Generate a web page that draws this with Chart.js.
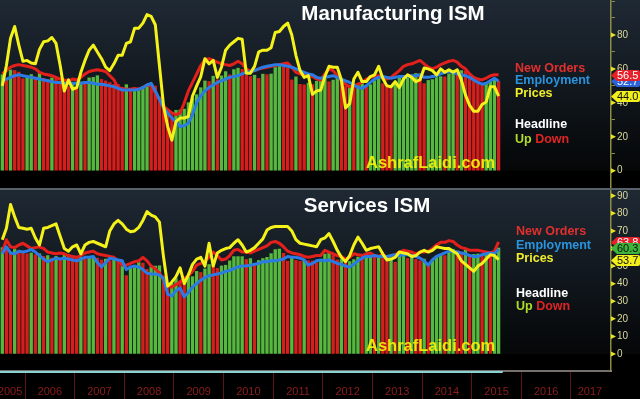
<!DOCTYPE html>
<html>
<head>
<meta charset="utf-8">
<script src="https://cdn.jsdelivr.net/npm/chart.js@4.4.1/dist/chart.umd.min.js"></script>
<style>
  html, body { margin: 0; padding: 0; background: #000; }
  #wrap { position: relative; width: 640px; height: 399px; overflow: hidden; background: #000;
          font-family: 'Liberation Sans', Arial, sans-serif; }
  #topBox { position: absolute; left: 0; top: 0; width: 640px; height: 188px; }
  #sep { position: absolute; left: 0; top: 188px; width: 640px; height: 2px; background: #59626b; }
  #botBox { position: absolute; left: 0; top: 190px; width: 640px; height: 209px; }
  .t { position: absolute; font-weight: bold; white-space: nowrap; line-height: 1; z-index: 5; }
  .title { font-size: 20.5px; color: #fff; width: 240px; text-align: center; }
  .leg { font-size: 12.5px; }
  .mark { font-size: 16.5px; color: rgba(246, 242, 10, 0.92); }
</style>
</head>
<body>
<div id="wrap">
  <div id="topBox"><canvas id="mfgChart" width="640" height="188"></canvas></div>
  <div id="sep"></div>
  <div id="botBox"><canvas id="svcChart" width="640" height="209"></canvas></div>

  <div class="t title" style="left:273px; top:3.3px;">Manufacturing ISM</div>
  <div class="t leg" style="left:515px; top:61.7px; color:#e0302e;">New Orders</div>
  <div class="t leg" style="left:515px; top:74.4px; color:#2a93dd;">Employment</div>
  <div class="t leg" style="left:515px; top:87.1px; color:#f0ee2a;">Prices</div>
  <div class="t leg" style="left:515px; top:117.7px; color:#fff;">Headline</div>
  <div class="t leg" style="left:515px; top:132.7px;"><span style="color:#b2dc2a;">Up</span> <span style="color:#dd2424;">Down</span></div>
  <div class="t mark" style="left:366px; top:154.3px;">AshrafLaidi.com</div>

  <div class="t title" style="left:247px; top:195.3px;">Services ISM</div>
  <div class="t leg" style="left:516px; top:225.1px; color:#e0302e;">New Orders</div>
  <div class="t leg" style="left:516px; top:238.7px; color:#2a93dd;">Employment</div>
  <div class="t leg" style="left:516px; top:252.1px; color:#f0ee2a;">Prices</div>
  <div class="t leg" style="left:516px; top:286.7px; color:#fff;">Headline</div>
  <div class="t leg" style="left:516px; top:300.1px;"><span style="color:#b2dc2a;">Up</span> <span style="color:#dd2424;">Down</span></div>
  <div class="t mark" style="left:366px; top:337px;">AshrafLaidi.com</div>
</div>

<script>
// Monthly readings, July 2005 .. July 2015 (one value per month)
const START_MONTH = 6; // months after Jan 2005

// ---- Manufacturing ISM ----
const mfgHeadline = [
  56.6, 53.6, 59.4, 59.1, 58.1, 54.2,
  54.8, 56.7, 55.2, 57.3, 54.4, 53.8, 54.7, 54.5, 52.9, 51.2, 49.5, 51.4,
  49.3, 52.3, 50.9, 54.7, 55.0, 56.0, 53.8, 52.9, 52.0, 50.9, 50.8, 48.4,
  50.7, 48.3, 48.6, 48.6, 49.6, 50.2, 50.0, 49.9, 43.5, 38.9, 36.2, 32.4,
  35.6, 35.8, 36.3, 40.1, 42.8, 44.8, 48.9, 52.9, 52.6, 55.7, 53.6, 55.9,
  58.4, 56.5, 59.6, 60.4, 59.7, 56.2, 55.5, 56.3, 54.4, 56.9, 56.6, 57.0,
  60.8, 61.4, 61.2, 60.4, 53.5, 55.3, 50.9, 50.6, 51.6, 50.8, 52.7, 53.9,
  54.1, 52.4, 53.4, 54.8, 53.5, 49.7, 49.8, 49.6, 51.5, 51.7, 49.5, 50.7,
  53.1, 54.2, 51.3, 50.7, 49.0, 50.9, 55.4, 55.7, 56.2, 56.4, 57.3, 57.0,
  51.3, 53.2, 53.7, 54.9, 55.4, 55.3, 57.1, 59.0, 56.6, 59.0, 58.7, 55.5,
  53.5, 52.9, 51.5, 51.5, 52.8, 53.5, 52.7
];
const mfgNewOrders = [
  57, 59, 61, 62, 62.5, 62,
  61.5, 61, 60, 58, 57, 56.5, 56, 55, 54, 53.5, 53, 54,
  53.5, 55, 57, 58.5, 59, 59.5, 59, 58.5, 56, 53.5, 49, 48.5,
  48, 48, 48.5, 48, 49, 50.5, 50, 46, 42, 38, 36, 34,
  33, 34, 40, 47, 52, 57, 62, 65.5, 66, 65, 64, 63,
  62.5, 62, 63, 64.5, 63, 60, 58.5, 59, 60, 60.5, 61, 61.5,
  62, 62.5, 63, 63.5, 61, 58, 57, 56.5, 56, 55.5, 54, 53.5,
  57, 60, 59, 56, 53, 51, 49.5, 50, 51, 52, 54, 55,
  55.5, 56, 55, 54, 55, 57, 59, 61.5, 62.5, 63, 64, 65,
  63, 61, 60, 61, 62.5, 63.5, 64.5, 65, 64, 61.5, 60, 57,
  55, 54, 53.5, 54.5, 56, 56.5, 56.5
];
const mfgEmployment = [
  53, 54, 55, 56, 56.5, 56,
  55.5, 55, 54.5, 54, 53.5, 53, 52.5, 52, 52, 51.5, 51.5, 51.5,
  51.5, 51.5, 52, 52, 51.5, 51, 51, 50.5, 50, 49.5, 48.5, 47.5,
  47.5, 47.5, 47.5, 48, 49, 50.5, 51.5, 47, 42, 37, 34, 31,
  29, 26, 26.5, 28, 33, 40, 44, 47, 49, 50.5, 52, 53,
  54, 55, 55.5, 56, 57, 58, 58.5, 59, 60, 61, 61.5, 62,
  62.5, 62.5, 62, 61.5, 61, 60, 59, 58, 57, 56.5, 55, 54.5,
  55, 55.5, 56, 55, 54, 53, 52, 50.5, 49, 48.5, 50, 52,
  54, 55, 55.5, 55, 54.5, 55, 55.5, 55.5, 55.5, 56, 56, 56.5,
  55, 55, 55.5, 56, 57, 58, 58.5, 58, 57, 56.5, 56, 55,
  53.5, 52, 51, 51.5, 53, 54.5, 52.7
];
const mfgPrices = [
  50, 62, 78, 85, 74, 64.5,
  65, 63.5, 63, 71.5, 76, 76.5, 78.5, 75, 62, 47, 53.5, 48,
  49, 58, 65, 71, 74, 70, 66, 61, 59, 63, 68, 68,
  75, 76, 84, 84, 87, 92, 91, 86, 62, 38, 26, 18,
  29, 31, 31, 32, 44, 50, 55.5, 66, 63, 65, 55, 61,
  71, 74, 76, 78, 77.5, 57.5, 57.5, 61.5, 70, 71, 71, 72.5,
  81.5, 82, 85, 87, 80, 68, 59, 55, 56, 45, 47, 47.5,
  55.5, 61.5, 61, 61, 53.5, 37, 39.5, 54, 58, 52.5, 52.5, 55.5,
  56.5, 61.5, 54.5, 50, 49.5, 52.5, 49, 54, 56.5, 55, 52.5, 53.5,
  60.5, 60, 59, 56.5, 60, 58, 59.5, 58, 59.5, 53.5, 44.5, 38.5,
  35, 35, 39, 40.5, 49.5, 49.5, 44.0
];

// ---- Services ISM ----
const svcHeadline = [
  60.5, 60.0, 57.5, 59.5, 58.5, 58.0,
  57.0, 57.5, 56.5, 57.0, 55.5, 56.0, 54.5, 55.5, 54.5, 56.5, 56.0, 55.0,
  54.5, 55.0, 54.0, 54.5, 55.0, 54.5, 53.5, 54.0, 53.0, 54.0, 52.5, 53.0,
  44.6, 49.3, 49.6, 52.0, 51.7, 48.2, 49.5, 50.0, 50.2, 44.4, 37.3, 40.1,
  42.9, 41.6, 40.8, 43.7, 44.0, 47.0, 46.4, 48.4, 50.9, 50.6, 48.7, 50.1,
  50.5, 53.0, 55.4, 55.4, 55.4, 53.8, 54.3, 51.5, 53.2, 54.3, 55.0, 57.1,
  59.4, 59.7, 57.3, 52.8, 54.6, 53.3, 52.7, 53.3, 53.0, 52.9, 52.0, 52.6,
  56.8, 57.3, 56.0, 53.5, 53.7, 52.1, 52.6, 53.7, 55.1, 54.2, 54.7, 56.1,
  55.2, 56.0, 54.4, 53.1, 53.7, 52.2, 56.0, 58.6, 54.4, 55.4, 53.9, 53.0,
  54.0, 51.6, 53.1, 55.2, 56.3, 56.0, 58.7, 59.6, 58.6, 57.1, 59.3, 56.2,
  56.7, 56.9, 56.5, 57.8, 55.7, 56.0, 60.3
];
const svcNewOrders = [
  58, 65, 61, 60.5, 62, 63,
  61.5, 60, 60.5, 61, 60, 58, 57.5, 57, 57.5, 57, 56, 55.5,
  55, 56, 57.5, 58, 58.5, 57, 56.5, 56, 55.5, 55, 53, 50.5,
  50.5, 51.5, 52.5, 53, 55, 53, 50, 48.5, 46, 42, 39, 38,
  39.5, 41, 43, 44.5, 47, 50.5, 51.5, 53, 55, 58, 56, 53.5,
  54, 56, 59, 59.5, 58, 58, 57.5, 58.5, 59.5, 60.5, 61.5, 63.5,
  64, 63, 61, 58.5, 57.5, 57, 56.5, 55.5, 55, 55.5, 56, 56,
  59, 58, 57, 56, 55.5, 54, 55, 57, 56.5, 56, 57, 57.5,
  56, 55.5, 56.5, 55, 56, 56.5, 58, 59, 58.5, 58, 57, 58,
  58, 58.5, 60, 62, 63.5, 63.5, 64.5, 64, 62, 60.5, 60, 59,
  59, 59, 58.5, 58, 57.5, 58.5, 63.8
];
const svcEmployment = [
  57, 61, 57.5, 57, 58.5, 58,
  58.5, 59.5, 58, 56, 54, 52.5, 53.5, 54.5, 54, 54.5, 54, 53.5,
  53, 54, 55, 55, 55.5, 52, 49.5, 52, 54.5, 54, 53.5, 53,
  48, 49.5, 50, 49.5, 48, 46, 45.5, 45.5, 45, 43, 34, 33,
  36, 37.5, 32.5, 35, 38, 40, 42, 43.5, 44.5, 45, 45.5, 46,
  47, 47.5, 48.5, 49.5, 50, 50, 50.5, 51, 51.5, 52.5, 52.5, 53,
  53, 53.5, 54, 55.5, 55, 55, 54.5, 53.5, 50.5, 51.5, 53, 53.5,
  53, 53.5, 52.5, 51.5, 51, 50, 49.5, 51, 53, 54.5, 55.5, 55.5,
  56, 55.5, 55.5, 55.5, 56, 56.5, 56, 56.5, 56.5, 56, 55.5, 54.5,
  53, 50.5, 53.5, 55.5, 56.5, 57.5, 58.5, 58.5, 58, 57.5, 57, 56,
  55.5, 55.5, 56.5, 57, 57.5, 57, 59.6
];
const svcPrices = [
  65, 71.5, 85, 78, 72, 71.5,
  71, 71.5, 66, 62, 71.5, 72, 73, 74, 67, 60, 58.5, 61,
  62, 57, 62, 63.5, 64, 63, 62, 61, 70, 74, 76, 74,
  71, 69.5, 70, 72, 76, 81, 79, 78, 75, 55, 38.5, 41,
  44, 49, 40, 45, 51, 54, 55, 50, 63, 50, 57.5, 59,
  60, 60.5, 63, 65, 62, 58, 59, 60.5, 63, 65.5, 70.5, 72,
  72.5, 72.5, 72.5, 72.5, 70, 65, 63, 62.5, 62, 61.5, 61, 65,
  66, 68.5, 64, 59, 55, 52.5, 56, 62, 66.5, 63, 59, 60,
  60.5, 61, 57, 53.5, 54, 55, 58, 57.5, 57, 55.5, 56, 58,
  59, 58, 59, 61, 60.5, 60, 60, 58.5, 57, 53, 51, 49,
  47, 50, 51.5, 54, 56.5, 56, 53.7
];

const yearLabels = ['2005', '2006', '2007', '2008', '2009', '2010', '2011',
                    '2012', '2013', '2014', '2015', '2016', '2017'];
const mfgTicks = [0, 10, 20, 30, 40, 50, 60, 70, 80, 90, 100];
const mfgLabelled = [0, 20, 40, 60, 80];
const svcTicks = [0, 5, 10, 15, 20, 25, 30, 35, 40, 45, 50, 55, 60, 65, 70, 75, 80, 85, 90];
const svcLabelled = [0, 10, 20, 30, 40, 50, 60, 70, 80, 90];

// colours
const GREEN = '#56b83e';
const RED = '#d41f1c';
const LINE_RED = '#e3201c';
const LINE_BLUE = '#2a7be4';
const LINE_YELLOW = '#f5f21a';
const AXIS_OLIVE = '#8d8c45';
const YEAR_RED = '#8e1d1d';

// x axis in months after 1 Jan 2005
const X_MIN = 5.95;
const X_MAX = 153.68;
const monthPos = mfgHeadline.map((_, i) => START_MONTH + i + 0.5);

// year separators at Jan 1, labels roughly centred in each year
const yearStarts = yearLabels.map((_, i) => i * 12).filter(v => v > X_MIN && v < X_MAX);
const yearLabelPos = yearLabels.map((_, i) => i * 12 + 6);
yearLabelPos[0] = 8.37;                          // first label kept inside the frame
yearLabelPos[yearLabelPos.length - 1] = 148.6;   // last label kept left of the axis

function pts(arr) {
  return arr.map((v, i) => ({ x: monthPos[i], y: v }));
}

function upDownColors(arr) {
  return arr.map((v, i) => (i === 0 || v >= arr[i - 1]) ? GREEN : RED);
}

// dark slate -> black panel background
const panelBackground = {
  id: 'panelBackground',
  beforeDraw(chart) {
    const ctx = chart.ctx;
    const top = chart.chartArea.top;
    const zeroY = chart.scales.y.getPixelForValue(0);
    ctx.save();
    ctx.fillStyle = '#000';
    ctx.fillRect(0, 0, chart.width, chart.height);
    const g = ctx.createLinearGradient(0, top, 0, zeroY);
    g.addColorStop(0, '#1f2934');
    g.addColorStop(0.55, '#10161c');
    g.addColorStop(1, '#050708');
    ctx.fillStyle = g;
    ctx.fillRect(0, top, chart.width, zeroY - top);
    ctx.restore();
  }
};

// yellow triangles on the labelled ticks plus the last-value tags
const axisTags = {
  id: 'axisTags',
  afterDraw(chart, args, opts) {
    const ctx = chart.ctx;
    const y = chart.scales.y;
    const x0 = chart.chartArea.right;
    ctx.save();
    ctx.fillStyle = '#e6e41c';
    opts.labelled.forEach(v => {
      const py = y.getPixelForValue(v);
      ctx.beginPath();
      ctx.moveTo(x0, py - 2.5);
      ctx.lineTo(x0 + 5, py);
      ctx.lineTo(x0, py + 2.5);
      ctx.closePath();
      ctx.fill();
    });

    opts.tags.forEach(t => {
      const data = chart.data.datasets[t.dataset].data;
      const val = data[data.length - 1].y;
      const py = Math.round(y.getPixelForValue(val)) + 0.5;
      const h = 5.5;
      ctx.beginPath();
      ctx.moveTo(x0, py);
      ctx.lineTo(x0 + 6, py - h);
      ctx.lineTo(chart.width - 2, py - h);
      ctx.quadraticCurveTo(chart.width, py - h, chart.width, py - h + 2);
      ctx.lineTo(chart.width, py + h - 2);
      ctx.quadraticCurveTo(chart.width, py + h, chart.width - 2, py + h);
      ctx.lineTo(x0 + 6, py + h);
      ctx.closePath();
      ctx.fillStyle = t.bg;
      ctx.fill();
      ctx.fillStyle = t.fg;
      ctx.font = '11px "Liberation Sans", Arial, sans-serif';
      ctx.textBaseline = 'middle';
      ctx.textAlign = 'left';
      ctx.fillText(val.toFixed(1), x0 + 6, py + 0.5);
    });

    if (opts.slider) {
      // time-range strip under the lower panel
      const bx = chart.scales.x.getPixelForValue(monthPos[monthPos.length - 1] + 1);
      const by = chart.chartArea.bottom + 1;
      ctx.strokeStyle = '#8ad2d2';
      ctx.lineWidth = 2;
      ctx.beginPath();
      ctx.moveTo(0, by);
      ctx.lineTo(bx, by);
      ctx.stroke();
    }
    ctx.restore();
  }
};

function yAxis(min, max, tickVals, labelled) {
  return {
    type: 'linear',
    position: 'right',
    min: min,
    max: max,
    afterBuildTicks: s => { s.ticks = tickVals.map(v => ({ value: v })); },
    afterFit: s => { s.width = 29; s.paddingTop = 0; s.paddingBottom = 0; },
    ticks: {
      callback: v => labelled.includes(v) ? String(v) : '',
      color: '#d9d89c',
      font: { family: '"Liberation Sans", Arial, sans-serif', size: 10 },
      padding: 2
    },
    grid: { drawOnChartArea: false, drawTicks: true, tickLength: 4, color: AXIS_OLIVE, lineWidth: 1 },
    border: { display: true, color: AXIS_OLIVE, width: 1.5 }
  };
}

function xAxis(show) {
  const labelTicks = yearLabelPos.map(v => ({ value: v }));
  const sepTicks = yearStarts.map(v => ({ value: v }));
  return {
    type: 'linear',
    position: 'bottom',
    min: X_MIN,
    max: X_MAX,
    offset: false,
    display: show,
    afterBuildTicks: s => {
      s.ticks = sepTicks.concat(labelTicks).sort((a, b) => a.value - b.value);
    },
    afterFit: s => {
      s.height = show ? 28 : 0;
      s.paddingLeft = 0;
      s.paddingRight = 0;
    },
    ticks: {
      autoSkip: false,
      maxRotation: 0,
      padding: -14,
      callback: v => {
        const i = yearLabelPos.indexOf(v);
        return i >= 0 ? yearLabels[i] : '';
      },
      color: YEAR_RED,
      font: { family: '"Liberation Sans Narrow", "Arial Narrow", "Liberation Sans", sans-serif', size: 11 }
    },
    grid: {
      offset: false,
      drawOnChartArea: false,
      drawTicks: true,
      tickLength: 28,
      lineWidth: 1,
      color: c => (c.tick && yearStarts.includes(c.tick.value)) ? '#5c1414' : 'rgba(0,0,0,0)'
    },
    border: { display: true, color: '#76706c', width: 2 }
  };
}

function makePanel(id, s) {
  const ctx = document.getElementById(id).getContext('2d');
  return new Chart(ctx, {
    type: 'bar',
    data: {
      datasets: [
        { type: 'line', label: 'Prices', data: pts(s.prices), borderColor: LINE_YELLOW,
          borderWidth: 3, pointRadius: 0, tension: 0, borderJoinStyle: 'round', order: 0 },
        { type: 'line', label: 'Employment', data: pts(s.employment), borderColor: LINE_BLUE,
          borderWidth: 3, pointRadius: 0, tension: 0, borderJoinStyle: 'round', order: 1 },
        { type: 'line', label: 'New Orders', data: pts(s.newOrders), borderColor: LINE_RED,
          borderWidth: 3, pointRadius: 0, tension: 0, borderJoinStyle: 'round', order: 2 },
        { type: 'bar', label: 'Headline', data: pts(s.headline), backgroundColor: upDownColors(s.headline),
          barThickness: 2.7, borderWidth: 0, order: 3 }
      ]
    },
    options: {
      responsive: false,
      animation: false,
      devicePixelRatio: 1,
      events: [],
      layout: { padding: 0, autoPadding: false },
      plugins: {
        legend: { display: false },
        tooltip: { enabled: false },
        axisTags: { labelled: s.labelled, tags: s.tags, slider: s.showX }
      },
      scales: {
        x: xAxis(s.showX),
        y: yAxis(s.yMin, s.yMax, s.yTicks, s.labelled)
      }
    },
    plugins: [panelBackground, axisTags]
  });
}

makePanel('mfgChart', {
  headline: mfgHeadline, newOrders: mfgNewOrders, employment: mfgEmployment, prices: mfgPrices,
  yMin: -10.2, yMax: 100.6, yTicks: mfgTicks, labelled: mfgLabelled, showX: false,
  tags: [
    { dataset: 1, bg: '#2c62d8', fg: '#fff' },
    { dataset: 2, bg: '#e5202a', fg: '#fff' },
    { dataset: 0, bg: '#f3ef1c', fg: '#111' }
  ]
});

makePanel('svcChart', {
  headline: svcHeadline, newOrders: svcNewOrders, employment: svcEmployment, prices: svcPrices,
  yMin: -9.7, yMax: 93.3, yTicks: svcTicks, labelled: svcLabelled, showX: true,
  tags: [
    { dataset: 2, bg: '#e5202a', fg: '#fff' },
    { dataset: 3, bg: '#3db43a', fg: '#111' },
    { dataset: 0, bg: '#f3ef1c', fg: '#111' }
  ]
});
</script>
</body>
</html>
